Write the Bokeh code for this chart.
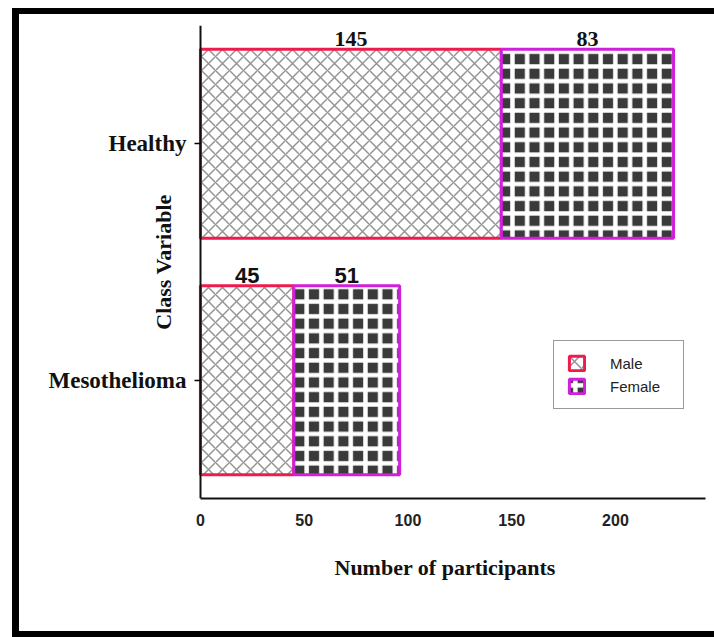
import math
from bokeh.plotting import figure
from bokeh.models import (ColumnDataSource, Legend, LegendItem, FactorRange,
                          Range1d, FixedTicker, Title)
from bokeh.transform import dodge
from bokeh.embed import file_html
from bokeh.resources import INLINE

# ---- data ----
categories = ["Healthy", "Mesothelioma"]
male = [145, 45]
female = [83, 51]
x_ticks = [0, 50, 100, 150, 200]
x_min, x_max = -87.2, 243.4        # visible x extent (left part holds the y-axis texts)
label_fonts = ["Liberation Serif", "Liberation Sans"]

RED = "#ef1a4e"
MAG = "#d11fdb"

total = [m + f for m, f in zip(male, female)]
src = ColumnDataSource(dict(
    cat=categories,
    male=male,
    female=female,
    total=total,
    male_mid=[m / 2 for m in male],
    female_mid=[m + f / 2 for m, f in zip(male, female)],
    male_lbl=[str(v) for v in male],
    female_lbl=[str(v) for v in female],
    font=label_fonts,
))

p = figure(width=702, height=629,
           y_range=FactorRange(factors=categories[::-1], range_padding=0),
           x_range=Range1d(x_min, x_max),
           output_backend="svg", toolbar_location=None,
           min_border_left=0, min_border_right=16,
           min_border_top=11, min_border_bottom=145)
p.styles = {"margin-left": "12px", "margin-top": "8px",
            "border-left": "7px solid black",
            "border-top": "6px solid black", "border-bottom": "6px solid black"}
p.outline_line_color = None
p.xgrid.visible = False
p.ygrid.visible = False
p.background_fill_color = "white"
p.border_fill_color = "white"

male_r = p.hbar(y="cat", left=0, right="male", height=0.8, source=src,
                fill_color="white", line_color=RED, line_width=3,
                hatch_pattern="diagonal_cross", hatch_color="#959595",
                hatch_scale=14, hatch_weight=1.5)
fem_r = p.hbar(y="cat", left="male", right="total", height=0.8, source=src,
               fill_color="#3a3a3a", line_color=MAG, line_width=3,
               hatch_pattern="cross", hatch_color="white",
               hatch_scale=14.7, hatch_weight=4.5)

ytop = dodge("cat", 0.4, range=p.y_range)
for xcol, tcol in (("male_mid", "male_lbl"), ("female_mid", "female_lbl")):
    p.text(x=xcol, y=ytop, text=tcol, source=src, text_font="font",
           text_font_style="bold", text_font_size="22px", text_color="#111111",
           text_align="center", text_baseline="bottom", y_offset=-3)

# y-axis title, placed between the two categories
ttl = ColumnDataSource(dict(x=[-18], cat=[categories[0]], t=["Class Variable"]))
p.text(x="x", y=dodge("cat", -0.5, range=p.y_range), text="t", source=ttl,
       angle=math.pi / 2, text_align="center", text_baseline="middle",
       text_font="Liberation Serif", text_font_style="bold",
       text_font_size="22px", text_color="#111111")

# axes
p.xaxis.ticker = FixedTicker(ticks=x_ticks)
p.xaxis.bounds = (0, x_max)
p.xaxis.major_tick_line_color = None
p.xaxis.minor_tick_line_color = None
p.xaxis.axis_line_width = 2
p.xaxis.axis_line_color = "#111111"
p.xaxis.major_label_text_font = "Liberation Sans"
p.xaxis.major_label_text_font_style = "bold"
p.xaxis.major_label_text_font_size = "16px"
p.xaxis.major_label_text_color = "#222222"
p.xaxis.major_label_standoff = 9

# x-axis title centred under the bars' axis extent
xt = Title(text="Number of participants", align="left", offset=315,
           text_font="Liberation Serif", text_font_style="bold",
           text_font_size="22px", text_color="#111111", standoff=48)
p.add_layout(xt, "below")

p.yaxis.fixed_location = 0
p.yaxis.axis_line_width = 2
p.yaxis.axis_line_color = "#111111"
p.yaxis.major_tick_out = 6
p.yaxis.major_tick_in = 0
p.yaxis.major_tick_line_width = 1.5
p.yaxis.major_label_text_font = "Liberation Serif"
p.yaxis.major_label_text_font_style = "bold"
p.yaxis.major_label_text_font_size = "23px"
p.yaxis.major_label_text_color = "#111111"
p.yaxis.major_label_standoff = 8

legend = Legend(items=[LegendItem(label="Male", renderers=[male_r]),
                       LegendItem(label="Female", renderers=[fem_r])],
                location=(534, 89))
legend.border_line_color = "#333333"
legend.border_line_width = 1.2
legend.label_text_font = "Liberation Sans"
legend.label_text_font_size = "15px"
legend.label_text_color = "#222222"
legend.glyph_width = 19
legend.glyph_height = 18
legend.label_standoff = 24
legend.label_width = 60
legend.spacing = 5
legend.padding = 13
legend.margin = 0
p.add_layout(legend)

open("out.html", "w").write(file_html(p, INLINE))
